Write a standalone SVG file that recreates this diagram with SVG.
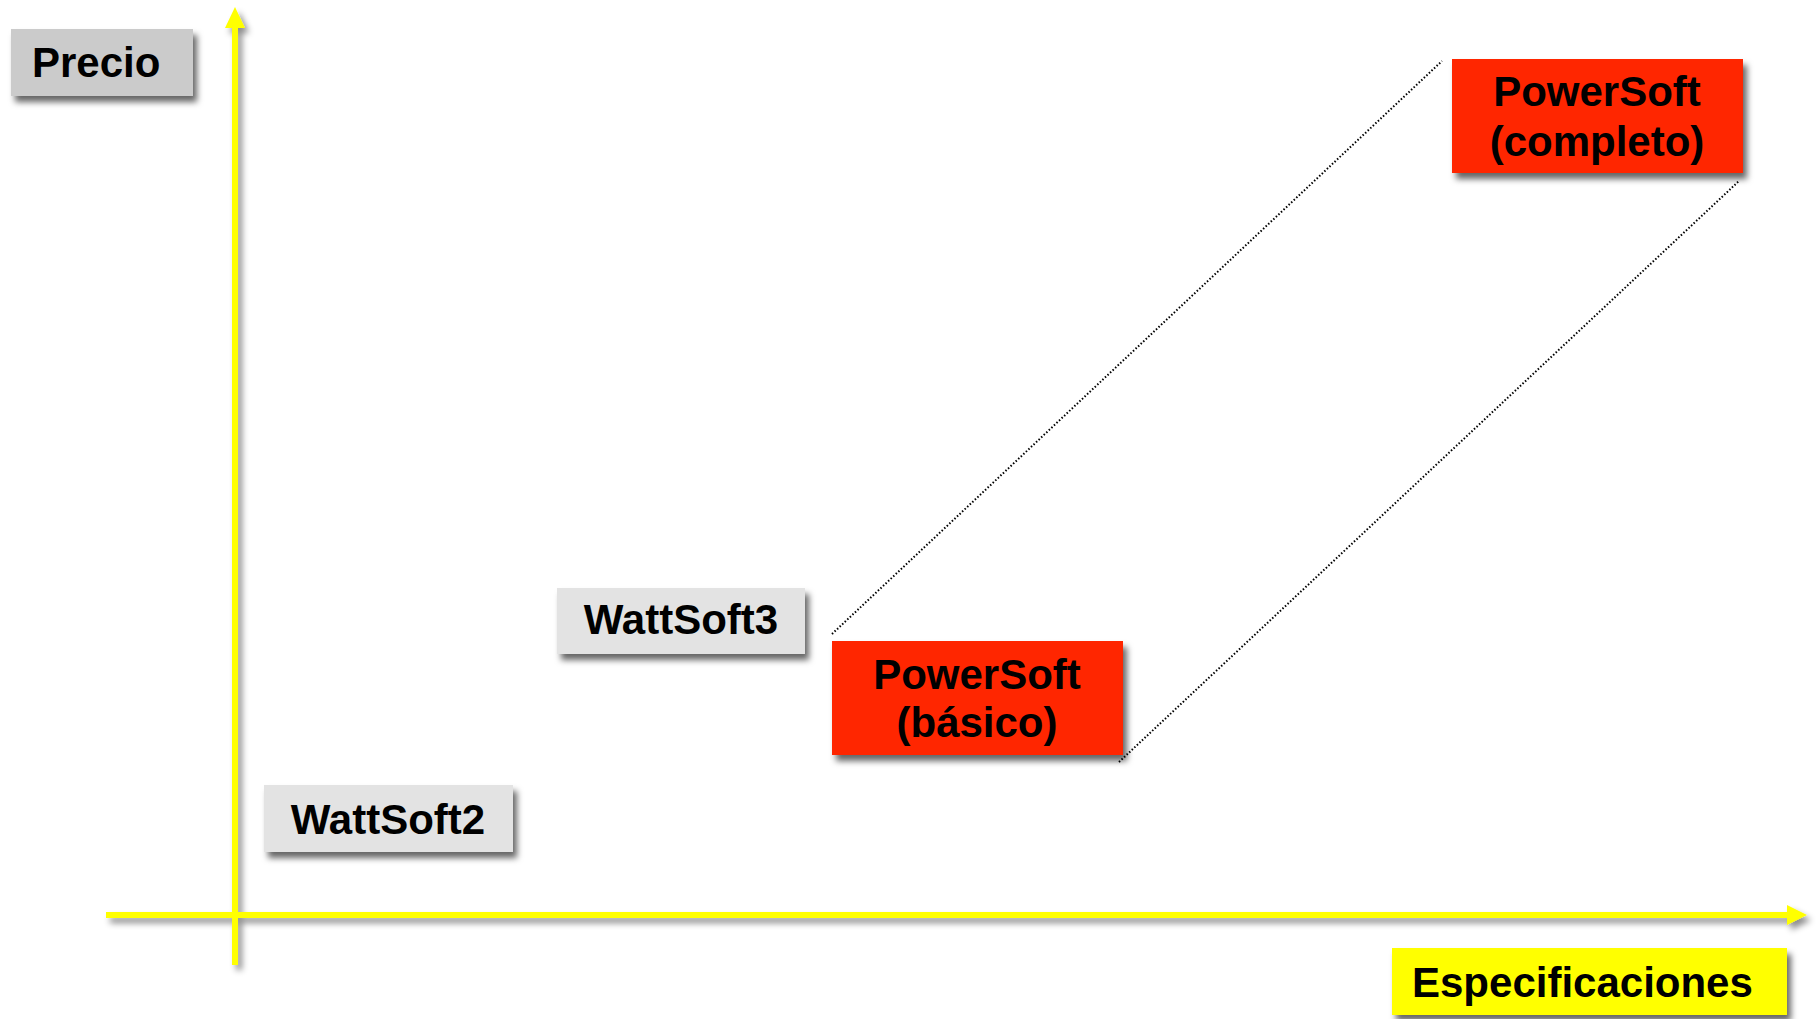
<svg xmlns="http://www.w3.org/2000/svg" width="1816" height="1019" viewBox="0 0 1816 1019">
  <defs>
    <filter id="sh" x="-20%" y="-20%" width="140%" height="160%">
      <feDropShadow dx="4" dy="6" stdDeviation="3" flood-color="#000" flood-opacity="0.6"/>
    </filter>
    <filter id="sha" x="-5%" y="-5%" width="110%" height="110%">
      <feDropShadow dx="4" dy="5" stdDeviation="3" flood-color="#000" flood-opacity="0.45"/>
    </filter>
  </defs>
  <style>
    .lbl { font-family: "Liberation Sans", Arial, sans-serif; font-weight: bold; font-size: 42px; fill: #000; }
    .gray { fill: #e3e3e3; }
    .dark { fill: #cbcbcb; }
    .red { fill: #ff2600; }
    .yel { fill: #ffff00; }
    .axis { stroke: #ffff00; stroke-width: 6; fill: none; }
    .dot { stroke: #000; stroke-width: 2; stroke-dasharray: 1.5 2; fill: none; }
  </style>
  <rect width="1816" height="1019" fill="#fff"/>

  <g id="axes" filter="url(#sha)">
    <line class="axis" x1="235" y1="26" x2="235" y2="965"/>
    <polygon class="yel" points="235,7 225,28 245,28"/>
    <line class="axis" x1="106" y1="915" x2="1789" y2="915"/>
    <polygon class="yel" points="1807,915 1787,905 1787,925"/>
  </g>

  <g id="connectors">
    <line class="dot" x1="832" y1="634" x2="1442" y2="61"/>
    <line class="dot" x1="1119" y1="762" x2="1739" y2="181"/>
  </g>

  <g id="precio">
    <rect class="dark" x="11" y="29" width="182" height="67" filter="url(#sh)"/>
    <text class="lbl" x="32" y="77">Precio</text>
  </g>

  <g id="wattsoft3">
    <rect class="gray" x="557" y="588" width="248" height="66" filter="url(#sh)"/>
    <text class="lbl" x="681" y="634" text-anchor="middle">WattSoft3</text>
  </g>

  <g id="wattsoft2">
    <rect class="gray" x="264" y="785" width="249" height="67" filter="url(#sh)"/>
    <text class="lbl" x="388" y="834" text-anchor="middle">WattSoft2</text>
  </g>

  <g id="powersoft-basico">
    <rect class="red" x="832" y="641" width="291" height="114" filter="url(#sh)"/>
    <text class="lbl" x="977" y="689" text-anchor="middle">PowerSoft</text>
    <text class="lbl" x="977" y="737" text-anchor="middle">(básico)</text>
  </g>

  <g id="powersoft-completo">
    <rect class="red" x="1452" y="59" width="291" height="114" filter="url(#sh)"/>
    <text class="lbl" x="1597" y="106" text-anchor="middle">PowerSoft</text>
    <text class="lbl" x="1597" y="156" text-anchor="middle">(completo)</text>
  </g>

  <g id="especificaciones">
    <rect class="yel" x="1392" y="948" width="395" height="67" filter="url(#sh)"/>
    <text class="lbl" x="1412" y="997">Especificaciones</text>
  </g>
</svg>
